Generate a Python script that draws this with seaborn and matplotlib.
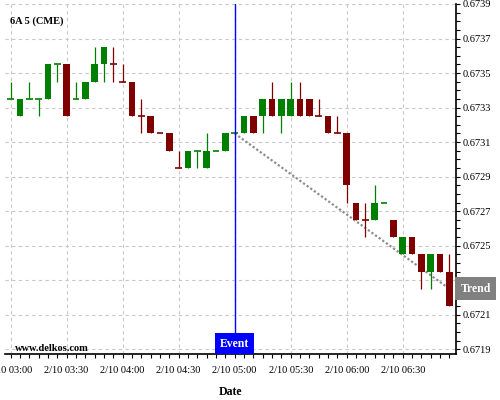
import numpy as np
import pandas as pd
import seaborn as sns
import matplotlib
matplotlib.use("Agg")
import matplotlib.pyplot as plt

GREEN = "#008000"
RED = "#800000"
BLUE = "#0000ff"
GRID = "#c8c8c8"

# 5-minute candles, 2/10 03:00 .. 06:55
opens = [0.67335, 0.67325, 0.67335, 0.67335, 0.67335, 0.67355, 0.67355, 0.67335,
         0.67335, 0.67345, 0.67355, 0.67355, 0.67345, 0.67345, 0.67325, 0.67325,
         0.67315, 0.67315, 0.67295, 0.67295, 0.67305, 0.67295, 0.67305, 0.67305,
         0.67315, 0.67315, 0.67325, 0.67325, 0.67335, 0.67325, 0.67325, 0.67335,
         0.67335, 0.67325, 0.67325, 0.67315, 0.67315, 0.67275, 0.67265, 0.67265,
         0.67275, 0.67265, 0.67245, 0.67255, 0.67245, 0.67235, 0.67245, 0.67235]
highs = [0.67345, 0.67335, 0.67345, 0.67335, 0.67355, 0.67355, 0.67355, 0.67345,
         0.67345, 0.67365, 0.67365, 0.67365, 0.67355, 0.67345, 0.67335, 0.67325,
         0.67315, 0.67315, 0.67305, 0.67305, 0.67305, 0.67315, 0.67305, 0.67315,
         0.67315, 0.67325, 0.67325, 0.67335, 0.67345, 0.67335, 0.67345, 0.67345,
         0.67335, 0.67335, 0.67325, 0.67325, 0.67315, 0.67275, 0.67275, 0.67285,
         0.67275, 0.67265, 0.67255, 0.67255, 0.67245, 0.67245, 0.67245, 0.67245]
lows = [0.67335, 0.67325, 0.67335, 0.67325, 0.67335, 0.67345, 0.67325, 0.67335,
        0.67335, 0.67345, 0.67345, 0.67345, 0.67345, 0.67325, 0.67315, 0.67315,
        0.67315, 0.67305, 0.67295, 0.67295, 0.67295, 0.67295, 0.67305, 0.67305,
        0.67315, 0.67315, 0.67315, 0.67315, 0.67325, 0.67315, 0.67325, 0.67325,
        0.67325, 0.67325, 0.67315, 0.67315, 0.67275, 0.67265, 0.67255, 0.67265,
        0.67275, 0.67255, 0.67245, 0.67245, 0.67225, 0.67225, 0.67235, 0.67215]
closes = [0.67335, 0.67335, 0.67335, 0.67335, 0.67355, 0.67355, 0.67325, 0.67335,
          0.67345, 0.67355, 0.67365, 0.67355, 0.67345, 0.67325, 0.67325, 0.67315,
          0.67315, 0.67305, 0.67295, 0.67305, 0.67305, 0.67305, 0.67305, 0.67315,
          0.67315, 0.67325, 0.67315, 0.67335, 0.67325, 0.67335, 0.67335, 0.67325,
          0.67325, 0.67325, 0.67315, 0.67315, 0.67285, 0.67265, 0.67265, 0.67275,
          0.67275, 0.67255, 0.67255, 0.67245, 0.67235, 0.67245, 0.67235, 0.67215]
bullish = [1, 1, 1, 1, 1, 1, 0, 1, 1, 1, 1, 0, 0, 0, 0, 0,
           0, 0, 0, 1, 1, 1, 1, 1, 1, 1, 0, 1, 0, 1, 1, 0,
           0, 0, 0, 0, 0, 0, 0, 1, 1, 0, 1, 0, 0, 1, 0, 0]

tick_pos = [0, 6, 12, 18, 24, 30, 36, 42]
tick_labels = ["2/10 03:00", "2/10 03:30", "2/10 04:00", "2/10 04:30",
               "2/10 05:00", "2/10 05:30", "2/10 06:00", "2/10 06:30"]
price_ticks = [0.6719, 0.6721, 0.6723, 0.6725, 0.6727, 0.6729,
               0.6731, 0.6733, 0.6735, 0.6737, 0.6739]
# 0.6723 sits under the "Trend" tag in the original, so its label is hidden
price_labels = ["0.6719", "0.6721", "", "0.6725", "0.6727", "0.6729",
                "0.6731", "0.6733", "0.6735", "0.6737", "0.6739"]

event_idx = 24
trend_idx = [24, 47]
trend_price = [0.67315, 0.67225]

df = pd.DataFrame({"open": opens, "high": highs, "low": lows,
                   "close": closes, "bull": bullish})
df["x"] = np.arange(len(df))
df["color"] = np.where(df["bull"] == 1, GREEN, RED)
df["bottom"] = df[["open", "close"]].min(axis=1)
df["height"] = (df["close"] - df["open"]).abs()

sns.set_style("white")
plt.rcParams["font.family"] = ["Liberation Serif", "DejaVu Serif"]

fig = plt.figure(figsize=(5, 4), dpi=100)
ax = fig.add_axes([0.01, 0.114, 0.901, 0.876])

# trend line first so candles sit above it
sns.lineplot(x=trend_idx, y=trend_price, ax=ax, color="#8c8c8c",
             linestyle=(0, (1, 1)), linewidth=1.6, zorder=2)

ax.vlines(df["x"], df["low"], df["high"], colors=df["color"], linewidth=0.9, zorder=3)
body = df[df["height"] > 0]
ax.bar(body["x"], body["height"], bottom=body["bottom"], width=0.7,
       color=body["color"], linewidth=0, zorder=4)
doji = df[df["height"] == 0]
ax.hlines(doji["close"], doji["x"] - 0.35, doji["x"] + 0.35,
          colors=doji["color"], linewidth=1.2, zorder=4)

ax.axvline(event_idx, color=BLUE, linewidth=1, zorder=5)

ax.set_xlim(-0.6, 47.65)
ax.set_ylim(0.67187, 0.6739)

ax.set_xticks(tick_pos)
ax.set_xticklabels(tick_labels)
ax.set_xticks(df["x"], minor=True)
ax.set_yticks(price_ticks)
ax.set_yticklabels(price_labels)
ax.set_yticks(np.arange(price_ticks[0], price_ticks[-1] + 1e-6, 0.00005), minor=True)
ax.yaxis.tick_right()

ax.tick_params(axis="x", which="both", bottom=True, direction="out", length=3,
               width=0.8, pad=5, labelsize=7.5, colors="black")
ax.tick_params(axis="y", which="both", right=True, left=False, direction="out",
               length=3, width=0.8, pad=2, labelsize=7.5, colors="black")

ax.grid(True, which="major", color=GRID, linestyle=(0, (3, 3)), linewidth=0.8)
ax.set_axisbelow(True)

for side in ["top", "left"]:
    ax.spines[side].set_visible(False)
for side in ["right", "bottom"]:
    ax.spines[side].set_color("black")
    ax.spines[side].set_linewidth(1.2)

ax.set_xlabel("Date", fontsize=8.5, fontweight="bold", labelpad=8, color="black")
ax.set_ylabel("")

ax.text(0.011, 0.952, "6A 5 (CME)", transform=ax.transAxes, fontsize=7.5,
        fontweight="bold", va="center", ha="left", color="black")
ax.text(0.022, 0.017, "www.delkos.com", transform=ax.transAxes, fontsize=7.5,
        fontweight="bold", va="center", ha="left", color="black")

ax.annotate("Event", xy=(event_idx, 0), xycoords=("data", "axes fraction"),
            xytext=(0, 3.4), textcoords="offset points", ha="center", va="bottom",
            color="white", fontsize=8.5, fontweight="bold", zorder=6,
            bbox=dict(boxstyle="square,pad=0.4", fc=BLUE, ec="none"),
            annotation_clip=False)
ax.annotate("Trend", xy=(1, trend_price[-1]), xycoords=("axes fraction", "data"),
            xytext=(3.8, 0), textcoords="offset points", ha="left", va="center",
            color="white", fontsize=8.5, fontweight="bold", zorder=6,
            bbox=dict(boxstyle="square,pad=0.45", fc="#808080", ec="none"),
            annotation_clip=False)

fig.savefig("out.png", dpi=100)
